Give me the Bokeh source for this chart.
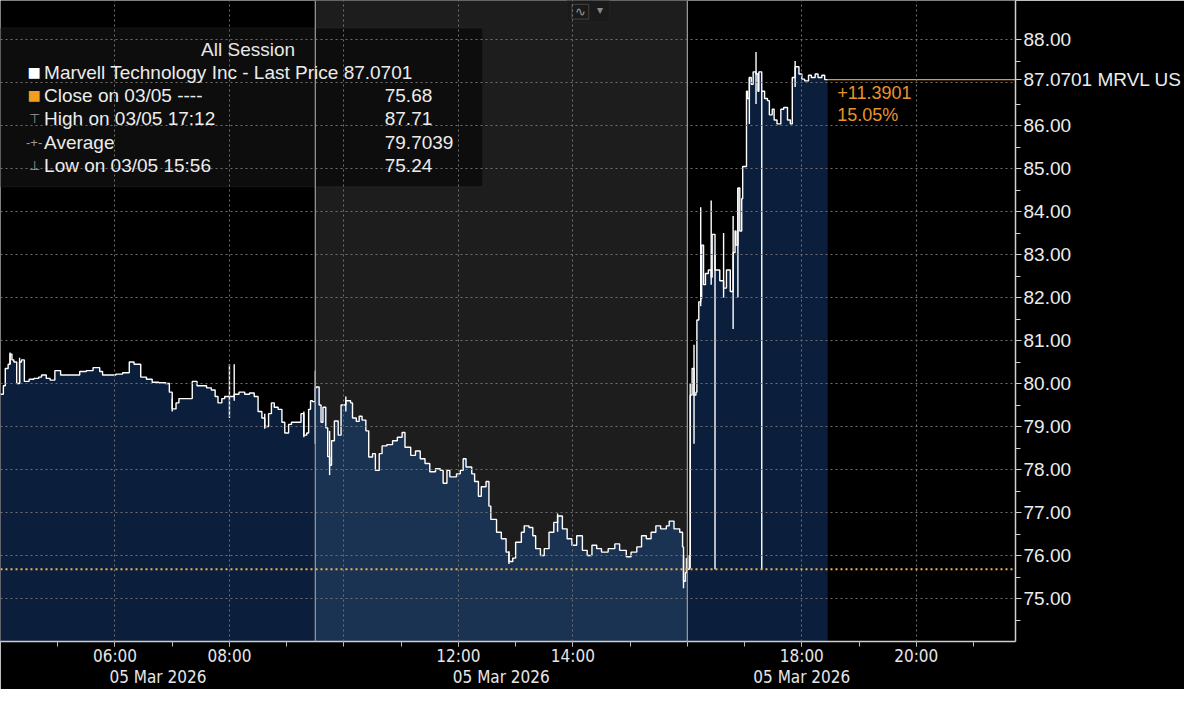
import pandas as pd

from bokeh.plotting import figure
from bokeh.models import (ColumnDataSource, FixedTicker, DatetimeAxis, DatetimeTickFormatter,
                          PrintfTickFormatter, Span, BoxAnnotation, Label, Range1d)
from bokeh.embed import file_html
from bokeh.resources import INLINE

DAY = "2026-03-05"

# last price, 1 bar per few minutes
times = ["04:00", "04:03", "04:05", "04:08", "04:10", "04:12", "04:14", "04:17", "04:20", "04:22",
         "04:25", "04:30", "04:35", "04:40", "04:43", "04:48", "04:52", "04:57", "05:03", "05:09",
         "05:15", "05:21", "05:23", "05:30", "05:37", "05:44", "05:47", "05:55", "06:01", "06:08",
         "06:15", "06:20", "06:25", "06:27", "06:33", "06:39", "06:46", "06:53", "06:57", "07:00",
         "07:04", "07:07", "07:12", "07:17", "07:21", "07:26", "07:31", "07:36", "07:41", "07:45",
         "07:48", "07:52", "07:55", "08:00", "08:05", "08:10", "08:16", "08:21", "08:26", "08:30",
         "08:34", "08:37", "08:41", "08:44", "08:47", "08:51", "08:55", "08:58", "09:02", "09:05",
         "09:10", "09:15", "09:18", "09:21", "09:23", "09:25", "09:27",
         "09:30", "09:31", "09:34", "09:36", "09:38", "09:41", "09:43", "09:45", "09:47", "09:50",
         "09:54", "09:57", "10:02", "10:07", "10:09", "10:13", "10:16", "10:19", "10:23", "10:26",
         "10:30", "10:33", "10:37", "10:40", "10:45", "10:51", "10:56", "11:01", "11:04", "11:10",
         "11:15", "11:20", "11:25", "11:30", "11:36", "11:41", "11:44", "11:48", "11:51", "11:58",
         "12:02", "12:05", "12:08", "12:14", "12:17", "12:21", "12:24", "12:29", "12:32", "12:34",
         "12:40", "12:45", "12:50", "12:53", "12:57", "13:00", "13:06", "13:09", "13:14", "13:18",
         "13:21", "13:26", "13:30", "13:35", "13:40", "13:44", "13:49", "13:54", "13:59", "14:04",
         "14:10", "14:15", "14:20", "14:25", "14:30", "14:37", "14:44", "14:49", "14:56", "15:01",
         "15:07", "15:12", "15:17", "15:22", "15:27", "15:32", "15:38", "15:41", "15:46", "15:52",
         "15:55", "15:56", "15:58", "15:59",
         "16:00", "16:02", "16:03", "16:05", "16:07", "16:09", "16:10", "16:12", "16:14", "16:15",
         "16:17", "16:19", "16:22", "16:25", "16:26", "16:29", "16:31", "16:34", "16:38", "16:41",
         "16:45", "16:48", "16:50", "16:51", "16:53", "16:55", "16:57", "16:58", "17:00", "17:02",
         "17:03", "17:05", "17:07", "17:09", "17:12", "17:14", "17:15", "17:18", "17:19", "17:21",
         "17:24", "17:26", "17:29", "17:31", "17:34", "17:38", "17:41", "17:45", "17:48", "17:50",
         "17:53", "17:57", "18:00", "18:03", "18:07", "18:10", "18:14", "18:17", "18:21", "18:24",
         "18:27"]
prices = [79.75, 79.95, 80.35, 80.45, 80.68, 80.55, 80.50, 80.00, 80.50, 80.55,
          80.05, 80.10, 80.12, 80.15, 80.20, 80.12, 80.08, 80.30, 80.20, 80.20,
          80.20, 80.20, 80.28, 80.30, 80.37, 80.28, 80.20, 80.20, 80.22, 80.25,
          80.50, 80.45, 80.45, 80.15, 80.10, 80.03, 80.02, 80.00, 79.80, 79.41,
          79.55, 79.65, 79.65, 79.65, 80.05, 79.95, 79.95, 79.90, 79.85, 79.70,
          79.55, 79.65, 79.70, 79.70, 79.75, 79.80, 79.75, 79.78, 79.70, 79.35,
          79.20, 79.00, 79.30, 79.55, 79.45, 79.40, 79.10, 78.85, 79.05, 79.10,
          79.10, 79.30, 78.80, 78.85, 79.40, 79.60, 79.58,
          79.90, 79.92, 79.50, 79.10, 79.45, 78.97, 78.30, 78.10, 78.67, 79.13,
          78.80, 79.50, 79.60, 79.55, 79.20, 79.12, 79.24, 79.15, 78.90, 78.29,
          78.37, 77.98, 78.37, 78.55, 78.58, 78.67, 78.75, 78.86, 78.52, 78.33,
          78.43, 78.25, 78.14, 77.95, 78.02, 77.98, 77.68, 77.98, 77.83, 77.90,
          77.98, 78.25, 78.06, 77.90, 77.72, 77.38, 77.60, 77.72, 77.15, 76.84,
          76.54, 76.39, 76.08, 75.86, 75.94, 76.31, 76.54, 76.69, 76.65, 76.46,
          76.16, 76.00, 76.16, 76.54, 76.77, 76.92, 76.62, 76.39, 76.24, 76.46,
          76.12, 76.00, 76.24, 76.16, 76.08, 76.16, 76.27, 76.12, 75.97, 76.08,
          76.20, 76.46, 76.39, 76.54, 76.69, 76.62, 76.69, 76.80, 76.62, 76.54,
          76.20, 75.40, 75.60, 75.93,
          75.68, 76.00, 79.73, 80.35, 79.73, 79.80, 81.48, 81.90, 81.98, 83.22,
          82.30, 82.56, 82.64, 82.47, 83.47, 82.64, 82.64, 82.39, 82.22, 82.64,
          82.14, 83.05, 83.55, 83.22, 84.55, 83.55, 84.30, 85.05, 85.05, 86.80,
          86.63, 87.12, 86.96, 87.25, 87.20, 86.80, 87.25, 86.80, 86.80, 86.63,
          86.58, 86.25, 86.38, 86.13, 86.04, 86.38, 86.42, 86.13, 86.04, 87.12,
          87.37, 87.20, 87.08, 87.04, 87.17, 87.12, 87.20, 87.12, 87.17, 87.07,
          87.0701]

# high / low wicks of single bars
wick_times = ["04:10", "04:20", "07:00", "08:00", "08:05", "08:37", "09:18", "09:30", "09:45", "10:02",
              "12:53", "13:44", "15:56", "16:03", "16:07", "16:14", "16:25", "16:29", "16:38", "16:48",
              "16:53", "17:05", "17:12", "17:18", "17:53"]
wick_lows = [80.45, 80.00, 79.35, 79.20, 79.60, 78.95, 78.75, 78.60, 77.87, 79.35,
             75.80, 76.55, 75.24, 75.70, 78.60, 81.80, 82.30, 75.68, 82.00, 81.27,
             82.00, 86.04, 86.50, 75.68, 86.90]
wick_highs = [80.72, 80.60, 79.65, 80.45, 80.45, 79.30, 79.35, 80.30, 78.90, 79.70,
              76.10, 76.98, 76.00, 80.00, 80.90, 84.10, 84.26, 83.00, 83.50, 83.90,
              84.55, 87.12, 87.71, 86.80, 87.50]

prev_close = 75.68
ticker_name = "MRVL US"
session_open = "09:30"
session_close = "16:00"

hour_ticks = ["06:00", "08:00", "12:00", "14:00", "18:00", "20:00"]
grid_hours = ["06:00", "08:00", "10:00", "12:00", "14:00", "16:00", "18:00", "20:00"]
minor_hours = ["%02d:00" % h for h in range(4, 22)]
date_ticks = ["06:45", "12:45", "18:00"]
price_ticks = list(range(75, 89))

legend_title = "All Session"
legend_labels = ["Marvell Technology Inc - Last Price 87.0701", "Close on 03/05 ----",
                 "High on 03/05 17:12", "Average", "Low on 03/05 15:56"]
legend_values = ["", "75.68", "87.71", "79.7039", "75.24"]
legend_marks = ["■", "■", "⊤", "-+-", "⊥"]
legend_mark_colors = ["#ffffff", "#f39c1f", "#9a9a9a", "#9a9a9a", "#9a9a9a"]


def ms(hm):
    return pd.Timestamp(DAY + " " + hm).value / 1e6


x0, x_end = ms("04:00"), ms("21:44")
y0, y1 = 74.0, 88.91


# layout helpers: reference pixel -> data position
def px_x(px):
    return x0 + px / 1025.0 * (x_end - x0)


def px_y(py):
    return y1 - py / 654.0 * (y1 - y0)


AXIS_FONT = "'Liberation Sans Narrow', 'DejaVu Sans Condensed', 'Liberation Sans', sans-serif"
TEXT_FONT = "'Liberation Sans', Arial, sans-serif"

df = pd.DataFrame({"t": [ms(t) for t in times], "price": prices})
df["base"] = y0

p = figure(width=1184, height=689, x_axis_type="datetime", y_axis_location="right",
           x_range=Range1d(x0, x_end), y_range=Range1d(y0, y1),
           output_backend="svg", toolbar_location=None,
           background_fill_color="black", border_fill_color="black",
           min_border_left=0, min_border_top=0, min_border_right=159, min_border_bottom=35,
           outline_line_color=None)

# regular session background
p.add_layout(BoxAnnotation(left=ms(session_open), right=ms(session_close), fill_color="#1d1d1d",
                           fill_alpha=1, line_color=None, level="underlay"))

# legend panel
p.add_layout(BoxAnnotation(left=px_x(0), right=px_x(487), top=px_y(28), bottom=px_y(190),
                           fill_color="#0d0d0d", fill_alpha=1, line_color="#3a3a3a",
                           line_width=1, level="underlay"))

# small chart-type icon on top
p.add_layout(BoxAnnotation(left=px_x(572), right=px_x(615), top=px_y(0), bottom=px_y(22),
                           fill_color="#1a1a1a", fill_alpha=1, line_color="#333333",
                           level="underlay"))
p.add_layout(BoxAnnotation(left=px_x(577), right=px_x(594), top=px_y(4), bottom=px_y(19),
                           fill_color=None, line_color="#8a8a8a", line_width=1.2, level="overlay"))
p.add_layout(Label(x=px_x(585.5), y=px_y(11.5), text="∿", text_color="#9a9a9a", text_font_size="13px",
                   text_align="center", text_baseline="middle", level="overlay"))
p.add_layout(Label(x=px_x(605), y=px_y(10), text="▾", text_color="#8a8a8a", text_font_size="12px",
                   text_align="center", text_baseline="middle", level="overlay"))

# area fills per session
o, c = ms(session_open), ms(session_close)
sessions = [(df[df.t <= o], "#0b1f3c"), (df[(df.t >= o) & (df.t <= c)], "#1b3353"), (df[df.t >= c], "#0b1f3c")]
for part, col in sessions:
    p.varea_step(x="t", y1="base", y2="price", step_mode="after", source=ColumnDataSource(part),
                 fill_color=col, fill_alpha=1)

# session separators
for s in (session_open, session_close):
    p.add_layout(Span(location=ms(s), dimension="height", line_color="#9c9c9c", line_width=1.2))

# previous close
p.add_layout(Span(location=prev_close, dimension="width", line_color="#f2b45a", line_width=2,
                  line_dash="2 3"))

# price line and wicks
src = ColumnDataSource(df)
p.step(x="t", y="price", mode="after", source=src, line_color="white", line_width=1.4)
wsrc = ColumnDataSource(dict(t=[ms(t) for t in wick_times], lo=wick_lows, hi=wick_highs))
p.segment(x0="t", y0="lo", x1="t", y1="hi", source=wsrc, line_color="white", line_width=1.4)

# last price marker line
last_t, last_price = ms(times[-1]), prices[-1]
p.segment(x0=[last_t], y0=[last_price], x1=[x_end], y1=[last_price], line_color="#e8932e", line_width=1.2)

# grid
p.xgrid.ticker = FixedTicker(ticks=[ms(h) for h in grid_hours])
p.ygrid.ticker = FixedTicker(ticks=price_ticks)
p.grid.grid_line_color = "#707070"
p.grid.grid_line_dash = "2 3"
p.grid.grid_line_width = 1
p.grid.level = "guide"

# x axis (hours)
fmt_h = DatetimeTickFormatter(hours="%H:%M", hourmin="%H:%M", minutes="%H:%M", minsec="%H:%M",
                              seconds="%H:%M", days="%H:%M", months="%H:%M", years="%H:%M",
                              strip_leading_zeros=False)
xa = p.xaxis[0]
xa.ticker = FixedTicker(ticks=[ms(h) for h in hour_ticks], minor_ticks=[ms(h) for h in minor_hours])
xa.formatter = fmt_h
xa.axis_line_color = "#cfcfcf"
xa.axis_line_width = 1.5
xa.major_tick_line_color = "#bdbdbd"
xa.minor_tick_line_color = "#bdbdbd"
xa.major_tick_in = 0
xa.major_tick_out = 5
xa.minor_tick_in = 0
xa.minor_tick_out = 5
xa.major_label_standoff = -1
xa.major_label_text_color = "#e6e6e6"
xa.major_label_text_font = AXIS_FONT
xa.major_label_text_font_size = "17px"

# date row
fmt_d = DatetimeTickFormatter(hours="%d %b %Y", hourmin="%d %b %Y", minutes="%d %b %Y", minsec="%d %b %Y",
                              seconds="%d %b %Y", days="%d %b %Y", months="%d %b %Y", years="%d %b %Y",
                              strip_leading_zeros=False)
da = DatetimeAxis(ticker=FixedTicker(ticks=[ms(t) for t in date_ticks]), formatter=fmt_d,
                  axis_line_color=None, major_tick_line_color=None, minor_tick_line_color=None,
                  major_tick_out=0, major_tick_in=0, minor_tick_out=0, minor_tick_in=0,
                  major_label_standoff=-2, major_label_text_color="#e6e6e6",
                  major_label_text_font=AXIS_FONT, major_label_text_font_size="17px")
p.add_layout(da, "below")

# price axis on the right, the last price tag replaces 87.00
tag_ticks = [t for t in price_ticks if abs(t - prices[-1]) > 0.5] + [prices[-1]]
ya = p.yaxis[0]
ya.ticker = FixedTicker(ticks=tag_ticks, minor_ticks=[t + 0.5 for t in range(74, 88)])
ya.formatter = PrintfTickFormatter(format="%.2f")
ya.major_label_overrides = {prices[-1]: "%.4f %s" % (prices[-1], ticker_name)}
ya.axis_line_color = "#cfcfcf"
ya.axis_line_width = 1.5
ya.major_tick_line_color = "#cfcfcf"
ya.minor_tick_line_color = "#cfcfcf"
ya.major_tick_in = 0
ya.major_tick_out = 6
ya.minor_tick_in = 0
ya.minor_tick_out = 5
ya.major_label_standoff = 2
ya.major_label_text_color = "#ececec"
ya.major_label_text_font = TEXT_FONT
ya.major_label_text_font_size = "19px"

# change since close
last_price = prices[-1]
dpp = (y1 - y0) / 654.0
chg = last_price - prev_close
p.add_layout(Label(x=px_x(845), y=last_price - 13 * dpp, text="%+.4f" % chg, text_color="#e8932e",
                   text_font=TEXT_FONT, text_font_size="18px", text_baseline="middle", level="overlay"))
p.add_layout(Label(x=px_x(845), y=last_price - 36 * dpp, text="%.2f%%" % (chg / prev_close * 100),
                   text_color="#e8932e", text_font=TEXT_FONT, text_font_size="18px",
                   text_baseline="middle", level="overlay"))

# legend text
p.add_layout(Label(x=px_x(250), y=px_y(50), text=legend_title, text_color="#e8e8e8", text_font=TEXT_FONT,
                   text_font_size="19px", text_align="center", text_baseline="middle", level="overlay"))
for i, (lab, val, mk, mc) in enumerate(zip(legend_labels, legend_values, legend_marks, legend_mark_colors)):
    yy = px_y(73 + i * 23.8)
    p.add_layout(Label(x=px_x(34), y=yy, text=mk, text_color=mc, text_font=TEXT_FONT,
                       text_font_size="22px" if i < 2 else "13px", text_align="center",
                       text_baseline="middle", level="overlay"))
    p.add_layout(Label(x=px_x(44), y=yy, text=lab, text_color="#ececec", text_font=TEXT_FONT,
                       text_font_size="19px", text_baseline="middle", level="overlay"))
    if val:
        p.add_layout(Label(x=px_x(388), y=yy, text=val, text_color="#ececec", text_font=TEXT_FONT,
                           text_font_size="19px", text_baseline="middle", level="overlay"))

open("out.html", "w").write(file_html(p, INLINE))
